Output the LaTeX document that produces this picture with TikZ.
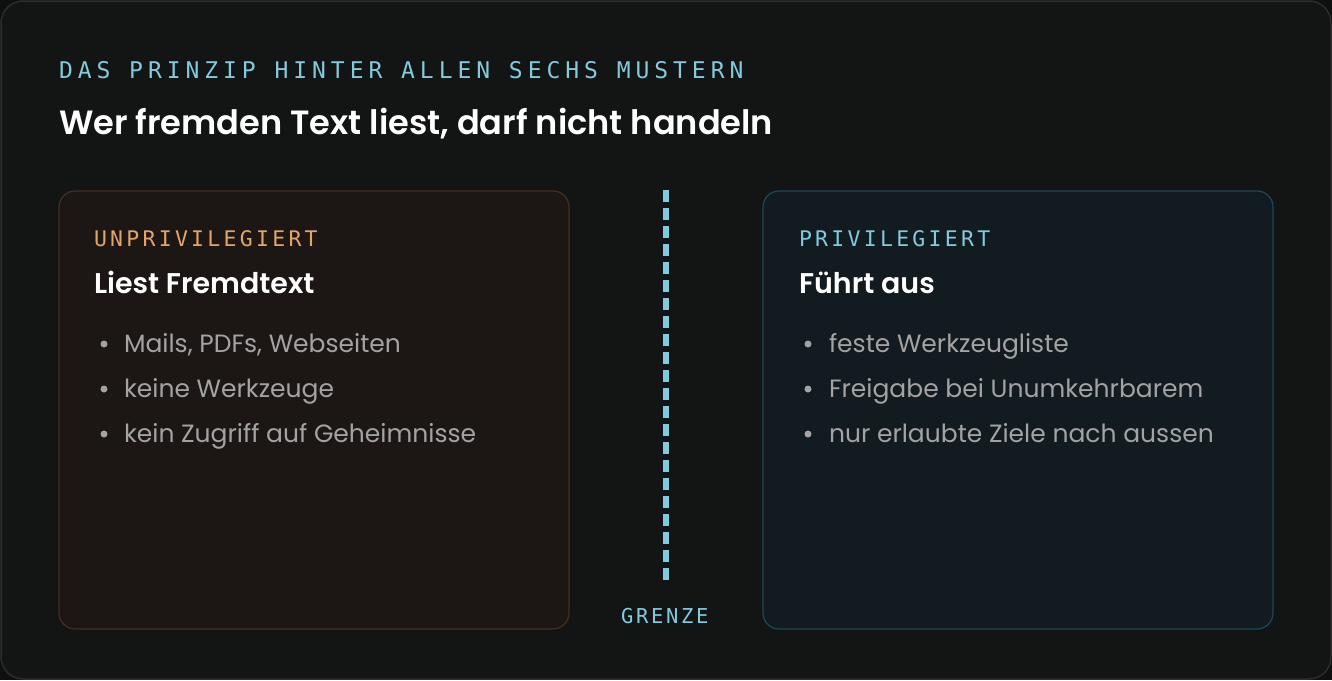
\documentclass[tikz,border=0pt]{standalone}
\usepackage{fontspec}
\setmainfont{Poppins}
\newfontfamily\popsemi{Poppins SemiBold}
\newfontfamily\monoeyebrow[LetterSpace=21.5]{DejaVu Sans Mono}
\newfontfamily\monolab[LetterSpace=15.2]{DejaVu Sans Mono}
\newfontfamily\monogrenze[LetterSpace=13]{DejaVu Sans Mono}
\definecolor{bgout}{HTML}{0E0F0F}
\definecolor{bgcard}{HTML}{131414}
\definecolor{frame}{HTML}{2C2C2C}
\definecolor{cyanlab}{HTML}{82CADD}
\definecolor{orangelab}{HTML}{E3A468}
\definecolor{leftfill}{HTML}{1C1715}
\definecolor{leftdraw}{HTML}{433021}
\definecolor{rightfill}{HTML}{111B20}
\definecolor{rightdraw}{HTML}{1F4858}
\definecolor{bullettext}{HTML}{A3A3A3}
\tikzset{
  txt/.style={anchor=base west, inner sep=0pt, outer sep=0pt},
  eyebrow/.style={txt, text=cyanlab, font=\monoeyebrow\fontsize{23}{23}\selectfont},
  boxlab/.style={txt, font=\monolab\fontsize{21.5}{22}\selectfont},
  heading/.style={txt, text=white, font=\popsemi\fontsize{28.5}{30}\selectfont},
  item/.style={txt, text=bullettext, font=\fontsize{25}{26}\selectfont},
  dot/.style={circle, fill=bullettext, inner sep=0pt, minimum size=7pt},
  panel/.style={rounded corners=16pt, line width=1.2pt},
}
\begin{document}
\begin{tikzpicture}[x=1pt,y=-1pt]
\fill[bgout] (0,0) rectangle (1332,680);
\useasboundingbox (0,0) rectangle (1332,680);
\draw[bgcard, fill=bgcard, draw=frame, line width=1.5pt, rounded corners=22pt] (1,1) rectangle (1331,679);

\node[eyebrow] (eyebrow) at (59,78) {DAS PRINZIP HINTER ALLEN SECHS MUSTERN};
\node[txt, text=white, font=\popsemi\fontsize{33.6}{35}\selectfont] (title) at (59,134) {Wer fremden Text liest, darf nicht handeln};

\draw[panel, fill=leftfill, draw=leftdraw] (59,191) rectangle (569,629);
\draw[panel, fill=rightfill, draw=rightdraw] (763,191) rectangle (1273,629);

\node[boxlab, text=orangelab] (ulab) at (94,246) {UNPRIVILEGIERT};
\node[heading] (uhead) at (94,293) {Liest Fremdtext};
\node[dot] (ud1) at (104,344) {};
\node[item] (ui1) at (124,352) {Mails, PDFs, Webseiten};
\node[dot] (ud2) at (104,389) {};
\node[item] (ui2) at (124,397) {keine Werkzeuge};
\node[dot] (ud3) at (104,434) {};
\node[item] (ui3) at (124,442) {kein Zugriff auf Geheimnisse};

\node[boxlab, text=cyanlab] (plab) at (799,246) {PRIVILEGIERT};
\node[heading] (phead) at (799,293) {Führt aus};
\node[dot] (pd1) at (808,344) {};
\node[item] (pi1) at (829,352) {feste Werkzeugliste};
\node[dot] (pd2) at (808,389) {};
\node[item] (pi2) at (829,397) {Freigabe bei Unumkehrbarem};
\node[dot] (pd3) at (808,434) {};
\node[item] (pi3) at (829,442) {nur erlaubte Ziele nach aussen};

\coordinate (gtop) at (666,190);
\coordinate (gbot) at (666,580);
\draw[cyanlab, line width=6pt, dash pattern=on 12pt off 6pt] (gtop) -- (gbot);
\node[anchor=base west, inner sep=0pt, text=cyanlab, font=\monogrenze\fontsize{20.5}{21}\selectfont] (grenze) at (621,623) {GRENZE};
\end{tikzpicture}
\end{document}
